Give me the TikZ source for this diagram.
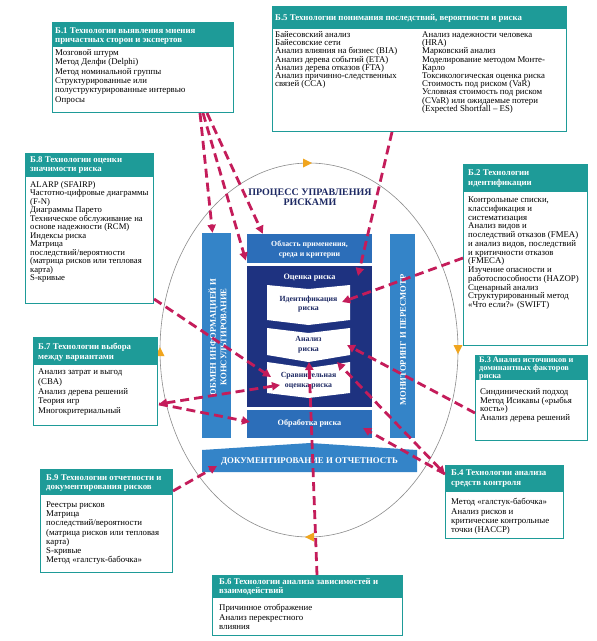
\documentclass[tikz,border=0pt]{standalone}
\usepackage{fontspec}
\setmainfont{Liberation Serif}
\usetikzlibrary{arrows.meta,calc}
\definecolor{tealh}{RGB}{30,155,152}
\definecolor{bluem}{RGB}{44,110,185}
\definecolor{bluel}{RGB}{52,132,200}
\definecolor{navy}{RGB}{30,50,128}
\definecolor{navyt}{RGB}{30,42,100}
\definecolor{crim}{RGB}{196,28,90}
\definecolor{orng}{RGB}{240,165,30}
\definecolor{ellg}{RGB}{140,140,140}
\newcommand\hst{\rule{0pt}{6pt}}
\tikzset{
  tbox/.style={draw=tealh, line width=1pt, inner sep=0pt, anchor=north west, fill=white},
  htext/.style={anchor=north west, inner sep=0pt, align=left, text=white, font=\bfseries\fontsize{8.8}{9}\selectfont},
  btext/.style={anchor=north west, inner sep=0pt, align=left, font=\fontsize{8.8}{8.8}\selectfont},
  conn/.style={crim, line width=2.8pt, dash pattern=on 9pt off 5pt, -{Triangle[length=8pt,width=8pt]}},
  conn2/.style={crim, line width=2.8pt, dash pattern=on 9pt off 5pt, {Triangle[length=8pt,width=8pt]}-{Triangle[length=8pt,width=8pt]}},
  blk/.style={fill=#1, inner sep=0pt, draw=none},
  wtext/.style={text=white, align=center, inner sep=0pt, font=\bfseries\fontsize{7.8}{9.6}\selectfont},
  ntext/.style={text=navyt, align=center, inner sep=0pt, font=\bfseries\fontsize{7.8}{9.6}\selectfont},
  orarrow/.style={fill=orng, draw=none}
}
\begin{document}
\begin{tikzpicture}[x=1pt,y=-1pt]
\useasboundingbox (0,0) rectangle (597,641);
\fill[white] (0,0) rectangle (597,641);

% ---------- ellipse ----------
\draw[ellg, line width=0.6pt] (309,350) ellipse [x radius=149, y radius=187];
\fill[orarrow] (303,158.5) -- (312,163) -- (303,167.5) -- cycle;
\fill[orarrow] (453.5,345) -- (462.5,345) -- (458,354) -- cycle;
\fill[orarrow] (314,532.5) -- (305,537) -- (314,541.5) -- cycle;
\fill[orarrow] (155.5,356) -- (164.5,356) -- (160,347) -- cycle;

% ---------- centre ----------
\node[ntext, font=\bfseries\fontsize{10}{10.3}\selectfont] (title) at (310,197) {ПРОЦЕСС УПРАВЛЕНИЯ\\РИСКАМИ};

\node[blk=bluel, minimum width=29, minimum height=205] (lbar) at (216.5,335.5) {};
\node[wtext, rotate=90, font=\bfseries\fontsize{8.6}{10.5}\selectfont] (lbart) at (217.5,337) {ОБМЕН ИНФОРМАЦИЕЙ И\\КОНСУЛЬТИРОВАНИЕ};
\node[blk=bluel, minimum width=25, minimum height=204] (rbar) at (402.5,336) {};
\node[wtext, rotate=90, font=\bfseries\fontsize{8.6}{10}\selectfont] (rbart) at (403,340) {МОНИТОРИНГ И ПЕРЕСМОТР};

\node[blk=bluem, minimum width=125, minimum height=29] (obl) at (309.5,248.5) {};
\node[wtext] (oblt) at (309.5,249.5) {Область применения,\\среда и критерии};

\node[blk=navy, minimum width=125, minimum height=141] (ocen) at (309.5,336.5) {};
\node[wtext, font=\bfseries\fontsize{8.2}{9.6}\selectfont] (ocent) at (309.5,277.5) {Оценка риска};

\fill[white] (267,285) -- (308.5,289) -- (350,285) -- (350,320) -- (308.5,325) -- (267,320) -- cycle;
\node[ntext] (ident) at (308.5,304) {Идентификация\\риска};
\fill[white] (267,328) -- (308.5,333) -- (350,328) -- (350,355) -- (308.5,362) -- (267,355) -- cycle;
\node[ntext] (anal) at (308.5,345) {Анализ\\риска};
\fill[white] (267,362) -- (308.5,368) -- (350,362) -- (350,393) -- (308.5,398) -- (267,393) -- cycle;
\node[ntext] (sravn) at (308.5,380.5) {Сравнительная\\оценка риска};

\node[blk=bluem, minimum width=125, minimum height=28] (obr) at (309.5,424) {};
\node[wtext, font=\bfseries\fontsize{8.2}{9.6}\selectfont] (obrt) at (309.5,423.5) {Обработка риска};

\fill[bluel] (202,450) -- (310,443) -- (417,450) -- (417,472) -- (202,472) -- cycle;
\node[wtext, font=\bfseries\fontsize{8.8}{9.6}\selectfont] (doc) at (309.5,461.5) {ДОКУМЕНТИРОВАНИЕ И ОТЧЕТНОСТЬ};

% ---------- boxes ----------
% B1
\node[tbox, minimum width=181, minimum height=90] (b1) at (52,22) {};
\fill[tealh] (52,22) rectangle (233,47);
\node[htext, font=\bfseries\fontsize{8.8}{8.8}\selectfont] (b1h) at (55,27.3) {\hst Б.1 Технологии выявления мнения\\причастных сторон и экспертов};
\node[btext, font=\fontsize{8.8}{9.3}\selectfont] (b1t) at (55,49.3) {\hst Мозговой штурм\\Метод Делфи (Delphi)\\Метод номинальной группы\\Структурированные или\\полуструктурированные интервью\\Опросы};

% B5
\node[tbox, minimum width=294, minimum height=125] (b5) at (272,6) {};
\fill[tealh] (272,6) rectangle (566,29);
\node[htext] (b5h) at (275,13.8) {\hst Б.5 Технологии понимания последствий, вероятности и риска};
\node[btext, font=\fontsize{8.8}{8.2}\selectfont] (b5l) at (275,31.3) {\hst Байесовский анализ\\Байесовские сети\\Анализ влияния на бизнес (BIA)\\Анализ дерева событий (ETA)\\Анализ дерева отказов (FTA)\\Анализ причинно-следственных\\связей (CCA)};
\node[btext, font=\fontsize{8.8}{8.2}\selectfont] (b5r) at (422,31.3) {\hst Анализ надежности человека\\(HRA)\\Марковский анализ\\Моделирование методом Монте-\\Карло\\Токсикологическая оценка риска\\Стоимость под риском (VaR)\\Условная стоимость под риском\\(CVaR) или ожидаемые потери\\(Expected Shortfall -- ES)};

% B8
\node[tbox, minimum width=128, minimum height=150] (b8) at (25,153) {};
\fill[tealh] (25,153) rectangle (153,177);
\node[htext] (b8h) at (30,156.3) {\hst Б.8 Технологии оценки\\значимости риска};
\node[btext, font=\fontsize{8.7}{8.45}\selectfont] (b8t) at (30,181.3) {\hst ALARP (SFAIRP)\\Частотно-цифровые диаграммы\\(F-N)\\Диаграммы Парето\\Техническое обслуживание на\\основе надежности (RCM)\\Индексы риска\\Матрица\\последствий/вероятности\\(матрица рисков или тепловая\\карта)\\S-кривые};

% B2
\node[tbox, minimum width=124, minimum height=181] (b2) at (463,164) {};
\fill[tealh] (463,164) rectangle (587,192);
\node[htext, font=\bfseries\fontsize{8.8}{9.6}\selectfont] (b2h) at (468,169.3) {\hst Б.2 Технологии\\идентификации};
\node[btext, font=\fontsize{8.8}{8.75}\selectfont] (b2t) at (468,196.3) {\hst Контрольные списки,\\классификация и\\систематизация\\Анализ видов и\\последствий отказов (FMEA)\\и анализ видов, последствий\\и критичности отказов\\(FMECA)\\Изучение опасности и\\работоспособности (HAZOP)\\Сценарный анализ\\Структурированный метод\\«Что если?» (SWIFT)};

% B3
\node[tbox, minimum width=112, minimum height=85] (b3) at (475,355) {};
\fill[tealh] (475,355) rectangle (587,380);
\node[htext, font=\bfseries\fontsize{8.3}{7.9}\selectfont] (b3h) at (479,356.3) {\hst Б.3 Анализ источников и\\доминантных факторов\\риска};
\node[btext, font=\fontsize{8.8}{8.7}\selectfont] (b3t) at (480,388.3) {\hst Синдинический подход\\Метод Исикавы («рыбья\\кость»)\\Анализ дерева решений};

% B7
\node[tbox, minimum width=124, minimum height=88] (b7) at (33,337) {};
\fill[tealh] (33,337) rectangle (157,365);
\node[htext, font=\bfseries\fontsize{8.8}{10}\selectfont] (b7h) at (38,343.3) {\hst Б.7 Технологии выбора\\между вариантами};
\node[btext, font=\fontsize{8.8}{9.8}\selectfont] (b7t) at (38,368.3) {\hst Анализ затрат и выгод\\(CBA)\\Анализ дерева решений\\Теория игр\\Многокритериальный};

% B9
\node[tbox, minimum width=132, minimum height=103] (b9) at (40,469) {};
\fill[tealh] (40,469) rectangle (172,495);
\node[htext] (b9h) at (46,474.3) {\hst Б.9 Технологии отчетности и\\документирования рисков};
\node[btext, font=\fontsize{8.8}{9.2}\selectfont] (b9t) at (46,501.3) {\hst Реестры рисков\\Матрица\\последствий/вероятности\\(матрица рисков или тепловая\\карта)\\S-кривые\\Метод «галстук-бабочка»};

% B4
\node[tbox, minimum width=118, minimum height=73] (b4) at (445,465) {};
\fill[tealh] (445,465) rectangle (563,492);
\node[htext, font=\bfseries\fontsize{8.8}{9.6}\selectfont] (b4h) at (451,469.3) {\hst Б.4 Технологии анализа\\средств контроля};
\node[btext, font=\fontsize{8.8}{9.3}\selectfont] (b4t) at (451,498.3) {\hst Метод «галстук-бабочка»\\Анализ рисков и\\критические контрольные\\точки (HACCP)};

% B6
\node[tbox, minimum width=190, minimum height=60] (b6) at (212,575) {};
\fill[tealh] (212,575) rectangle (402,598);
\node[htext, font=\bfseries\fontsize{8.8}{8.5}\selectfont] (b6h) at (219,578.3) {\hst Б.6 Технологии анализа зависимостей и\\взаимодействий};
\node[btext, font=\fontsize{8.8}{9.5}\selectfont] (b6t) at (219,604.3) {\hst Причинное отображение\\Анализ перекрестного\\влияния};

% ---------- target points ----------
\coordinate (pOc) at (358,276);
\coordinate (pId) at (342,302);
\coordinate (pSr1) at (271,377);
\coordinate (pSr2) at (280,385);
\coordinate (pObr1) at (250,422);
\coordinate (pObr2) at (363,428);
\coordinate (pDoc) at (217,466);
\coordinate (pAn1) at (309,362);
\coordinate (pAn2) at (347,345);
\coordinate (pAn3) at (337,362);

% ---------- connectors ----------
\draw[conn] ($(b1.south west)+(148,0)$) -- ($(lbar.north)+(-4,0)$);
\draw[conn] ($(b1.south west)+(151,0)$) -- ($(obl.west)+(-1,12)$);
\draw[conn] ($(b1.south west)+(155,0)$) -- ($(obl.north west)+(16,0)$);
\draw[conn] ($(b5.south west)+(120,0)$) -- (pOc);
\draw[conn] ($(b2.north west)+(0,94)$) -- (pId);
\draw[conn] ($(b8.south east)+(0,-5)$) -- (pSr1);
\draw[conn2] ($(b7.north east)+(1,67)$) -- (pSr2);
\draw[conn] ($(b7.north east)+(1,67)$) -- (pObr1);
\draw[conn] ($(b9.north east)+(0,22)$) -- (pDoc);
\draw[conn] ($(b6.north west)+(105,0)$) -- (pAn1);
\draw[conn] ($(b3.north west)+(0,58)$) -- (pAn2);
\draw[conn2] ($(b4.north west)+(0,9)$) -- (pAn3);
\draw[conn] ($(b4.north west)+(0,9)$) -- (pObr2);
\end{tikzpicture}
\end{document}
